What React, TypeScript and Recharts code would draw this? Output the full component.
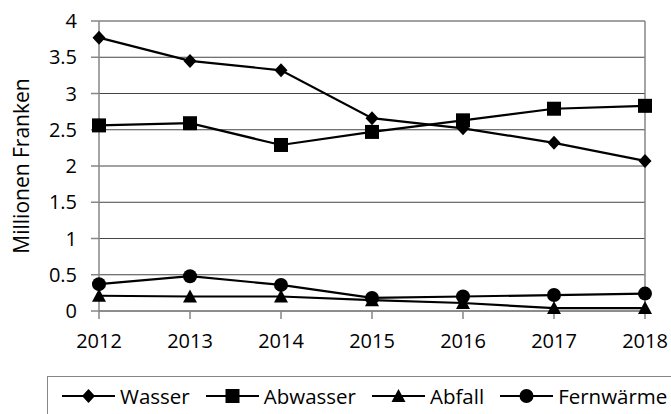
import React from "react";
import { LineChart, Line, XAxis, YAxis, CartesianGrid, ReferenceLine } from "recharts";

const years = ["2012", "2013", "2014", "2015", "2016", "2017", "2018"];
const wasser = [3.77, 3.45, 3.32, 2.66, 2.52, 2.32, 2.07];
const abwasser = [2.56, 2.59, 2.29, 2.47, 2.63, 2.79, 2.83];
const abfall = [0.21, 0.2, 0.2, 0.15, 0.11, 0.04, 0.04];
const fernwaerme = [0.37, 0.48, 0.36, 0.18, 0.2, 0.22, 0.24];
const yTicks = [0, 0.5, 1, 1.5, 2, 2.5, 3, 3.5, 4];

const data = years.map((year, i) => ({
  year,
  Wasser: wasser[i],
  Abwasser: abwasser[i],
  Abfall: abfall[i],
  Fernwärme: fernwaerme[i],
}));

const FONT = "'Open Sans', sans-serif";

type Shape = "diamond" | "square" | "triangle" | "circle";

function marker(shape: Shape, cx: number, cy: number, key?: string | number) {
  if (shape === "diamond")
    return <polygon key={key} points={`${cx},${cy - 7} ${cx + 6.5},${cy} ${cx},${cy + 7} ${cx - 6.5},${cy}`} fill="#000" />;
  if (shape === "square")
    return <rect key={key} x={cx - 7} y={cy - 7} width={14} height={14} fill="#000" />;
  if (shape === "triangle")
    return <polygon key={key} points={`${cx},${cy - 7} ${cx + 7},${cy + 6} ${cx - 7},${cy + 6}`} fill="#000" />;
  return <circle key={key} cx={cx} cy={cy} r={7} fill="#000" />;
}

const series: { key: string; shape: Shape }[] = [
  { key: "Wasser", shape: "diamond" },
  { key: "Abwasser", shape: "square" },
  { key: "Abfall", shape: "triangle" },
  { key: "Fernwärme", shape: "circle" },
];

// legend sits in its own bordered box below the plot, cut off by the page edge
function LegendBox() {
  return (
    <div
      style={{
        position: "absolute",
        left: 47,
        top: 376,
        border: "1px solid #868686",
        width: 660,
        height: 60,
        display: "flex",
        alignItems: "flex-start",
        paddingLeft: 14,
        paddingTop: 7,
        boxSizing: "border-box",
        fontFamily: FONT,
        fontSize: 20.5,
        lineHeight: "24px",
        color: "#000",
        whiteSpace: "nowrap",
      }}
    >
      {series.map((s) => (
        <div key={s.key} style={{ display: "flex", alignItems: "center", marginRight: 16 }}>
          <svg width={53} height={20} style={{ marginRight: 5 }}>
            <line x1={0} y1={10} x2={53} y2={10} stroke="#000" strokeWidth={2.2} />
            {marker(s.shape, 26.5, 10)}
          </svg>
          <span>{s.key}</span>
        </div>
      ))}
    </div>
  );
}

export default function App() {
  return (
    <div style={{ position: "absolute", left: 0, top: 0, width: 671, height: 414, overflow: "hidden", background: "#fff" }}>
      <LineChart width={671} height={414} data={data} margin={{ top: 21, right: 26, left: 0, bottom: 73 }}>
        <CartesianGrid vertical={false} stroke="#444" strokeWidth={1} />
        <XAxis
          dataKey="year"
          stroke="#868686"
          strokeWidth={1.5}
          tickSize={8}
          tickMargin={15}
          height={30}
          tick={{ fill: "#000", fontSize: 20, fontFamily: FONT }}
        />
        <YAxis
          domain={[0, 4]}
          ticks={yTicks}
          width={99}
          stroke="#868686"
          strokeWidth={1.5}
          tickSize={8}
          tickMargin={14}
          tick={{ fill: "#000", fontSize: 20, fontFamily: FONT }}
          label={{
            value: "Millionen Franken",
            angle: -90,
            position: "insideLeft",
            offset: 22,
            style: { textAnchor: "middle", fontSize: 21, fontFamily: FONT, fill: "#000" },
          }}
        />
        <ReferenceLine x="2018" stroke="#868686" strokeWidth={1.5} />
        {series.map((s) => (
          <Line
            key={s.key}
            dataKey={s.key}
            stroke="#000"
            strokeWidth={2.2}
            isAnimationActive={false}
            dot={(p: any) => marker(s.shape, p.cx, p.cy, p.index)}
            activeDot={false}
          />
        ))}
      </LineChart>
      <LegendBox />
    </div>
  );
}
